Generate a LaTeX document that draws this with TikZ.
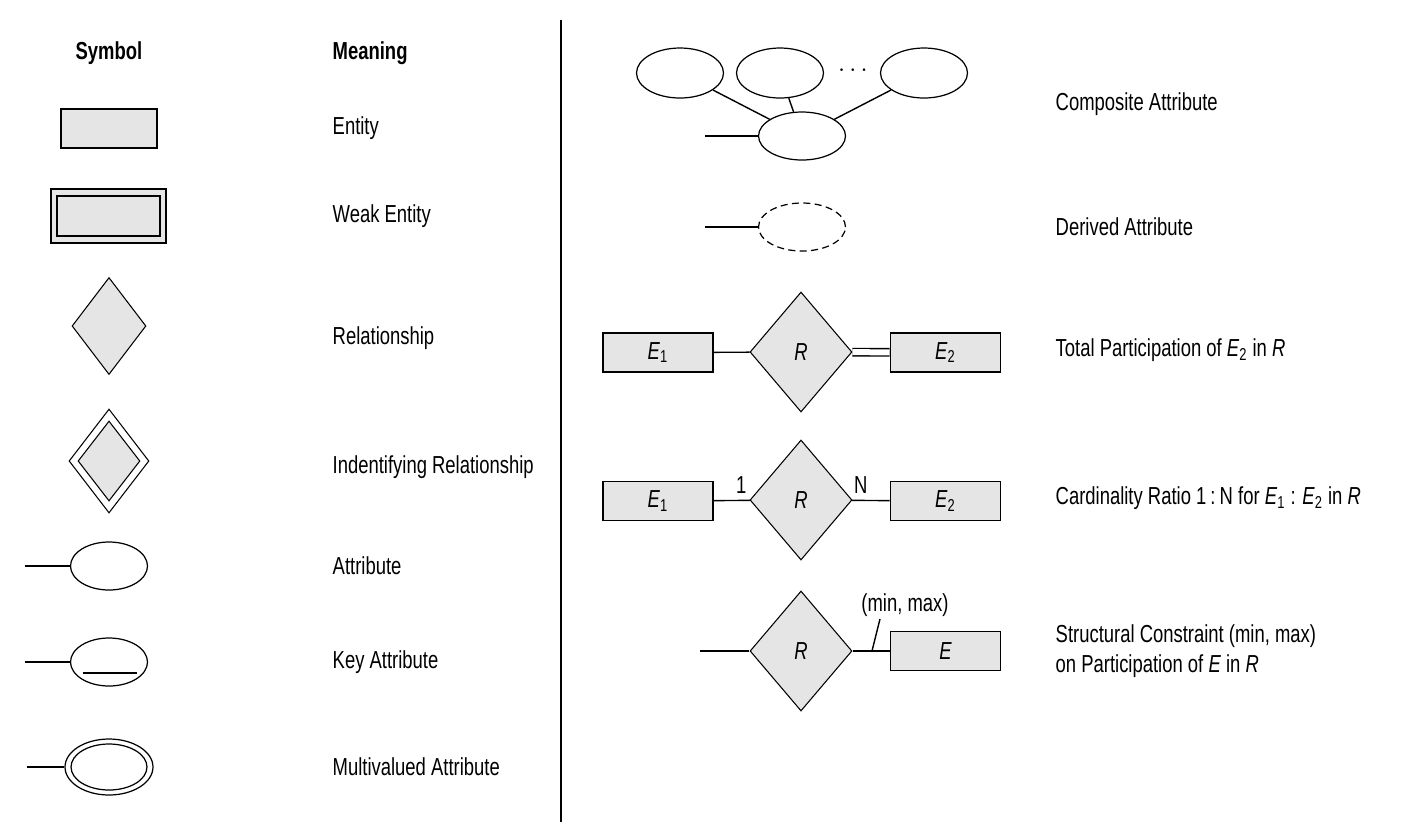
\documentclass[tikz,border=0pt]{standalone}
\usepackage{fontspec}
\setmainfont{Liberation Sans}[FakeStretch=0.75]
\usetikzlibrary{shapes}

\newcommand{\ent}[1]{\textit{E}\textsubscript{#1}}

\begin{document}
\begin{tikzpicture}[x=0.02cm, y=-0.02cm, line width=0.8pt,
	every node/.style={font=\fontsize{14}{17}\selectfont},
	every edge/.style={draw, line width=0.8pt},
	entity/.style={draw, rectangle, fill=gray!20, line width=0.9pt, inner sep=0pt, minimum width=1.92cm, minimum height=0.78cm},
	relation/.style={draw, diamond, fill=gray!20, inner sep=0pt, line width=0.6pt},
	attrib/.style={draw, ellipse, inner sep=0pt, line width=0.7pt},
	meaning/.style={anchor=west, inner sep=0pt}]
	\useasboundingbox (0,0) rectangle (1404,823);
	% headings and divider
	\node[font=\fontsize{14}{17}\selectfont\bfseries] (symbol) at (109,53) {Symbol};
	\node[meaning, font=\fontsize{14}{17}\selectfont\bfseries] (meaning) at (332,53) {Meaning};
	\coordinate (divtop) at (561,20);
	\coordinate (divbot) at (561,822);
	\draw[line width=0.9pt] (divtop) -- (divbot);
	% left column: symbols
	\node[entity] (ent) at (109,128.5) {};
	\node[entity, minimum width=2.3cm, minimum height=1.08cm] (weak) at (108.5,216) {};
	\node[entity, minimum width=2.06cm, minimum height=0.8cm] (weakin) at (weak) {};
	\node[relation, minimum width=1.48cm, minimum height=1.94cm] (rel) at (109,326) {};
	\node[relation, fill=none, minimum width=1.6cm, minimum height=2.08cm] (idrel) at (109,461) {};
	\node[relation, minimum width=1.24cm, minimum height=1.6cm] (idrelin) at (idrel) {};
	\node[attrib, minimum width=1.54cm, minimum height=0.96cm] (attr) at (109,566) {};
	\node[attrib, minimum width=1.54cm, minimum height=0.96cm] (key) at (109,662) {};
	\node[attrib, minimum width=1.76cm, minimum height=1.12cm] (multi) at (109,767) {};
	\node[attrib, minimum width=1.52cm, minimum height=0.92cm] (multiin) at (multi) {};
	\coordinate (attrend) at (25,566);
	\coordinate (keyend) at (25,662);
	\coordinate (multiend) at (27,767);
	\path (attrend) edge (attr);
	\path (keyend) edge (key);
	\path (multiend) edge (multi);
	\draw ([shift={(-26,11)}]key.center) -- ([shift={(28,11)}]key.center);
	% left column: meanings
	\node[meaning] (lent) at (332,128) {Entity};
	\node[meaning] (lweak) at (332,216) {Weak Entity};
	\node[meaning] (lrel) at (332,338) {Relationship};
	\node[meaning] (lidrel) at (332,467) {Indentifying Relationship};
	\node[meaning] (lattr) at (332,566) {Attribute};
	\node[meaning] (lkey) at (332,662) {Key Attribute};
	\node[meaning] (lmulti) at (332,767) {Multivalued Attribute};
	% composite attribute
	\node[attrib, minimum width=1.74cm, minimum height=1cm] (comp1) at (680,73) {};
	\node[attrib, minimum width=1.74cm, minimum height=1cm] (comp2) at (780,73) {};
	\node[attrib, minimum width=1.74cm, minimum height=1cm] (comp3) at (924,73) {};
	\node (dots) at (853,71) {$\cdots$};
	\node[attrib, minimum width=1.74cm, minimum height=0.96cm] (comp) at (802,136) {};
	\coordinate (compend) at (705,136);
	\path (comp1) edge (comp) (comp2) edge (comp) (comp3) edge (comp) (compend) edge (comp);
	% derived attribute
	\node[attrib, dashed, dash pattern=on 4pt off 2.5pt, minimum width=1.74cm, minimum height=0.96cm] (der) at (802,227) {};
	\coordinate (derend) at (705,227);
	\path (derend) edge (der);
	% total participation
	\node[entity, minimum width=2.2cm] (tE1) at (658,352.5) {\ent{1}};
	\node[relation, minimum width=2.04cm, minimum height=2.4cm] (tR) at (801,352) {\textit{R}};
	\node[entity, minimum width=2.2cm] (tE2) at (945.5,352.5) {\ent{2}};
	\path (tE1) edge (tR);
	\path (tR) edge[double, double distance=0.12cm] (tE2);
	% cardinality ratio
	\node[entity, minimum width=2.2cm] (cE1) at (658,501) {\ent{1}};
	\node[relation, minimum width=2.04cm, minimum height=2.4cm] (cR) at (801,500) {\textit{R}};
	\node[entity, minimum width=2.2cm] (cE2) at (945.5,501) {\ent{2}};
	\path (cE1) edge node[above, pos=0.76] {1} (cR);
	\path (cR) edge node[above, pos=0.23] {N} (cE2);
	% structural constraint
	\node[relation, minimum width=2.04cm, minimum height=2.4cm] (sR) at (801,651) {\textit{R}};
	\node[entity, minimum width=2.2cm] (sE) at (945.5,651) {\textit{E}};
	\coordinate (send) at (700,651);
	\path (send) edge (sR) (sR) edge (sE);
	\node (minmax) at (905,605) {(min, max)};
	\coordinate (tickfoot) at (872,651);
	\coordinate (ticktop) at (880,619);
	\draw (tickfoot) -- (ticktop);
	% right column: meanings
	\node[meaning] (lcomp) at (1055,104) {Composite Attribute};
	\node[meaning] (lder) at (1055,227) {Derived Attribute};
	\node[meaning] (ltot) at (1055,350) {Total Participation of \ent{2} in \textit{R}};
	\node[meaning] (lcard) at (1055,498) {Cardinality Ratio 1\,:\,N for \ent{1} : \ent{2} in \textit{R}};
	\node[meaning, align=left] (lstruct) at (1055,651) {Structural Constraint (min, max)\\on Participation of \textit{E} in \textit{R}};
\end{tikzpicture}
\end{document}
